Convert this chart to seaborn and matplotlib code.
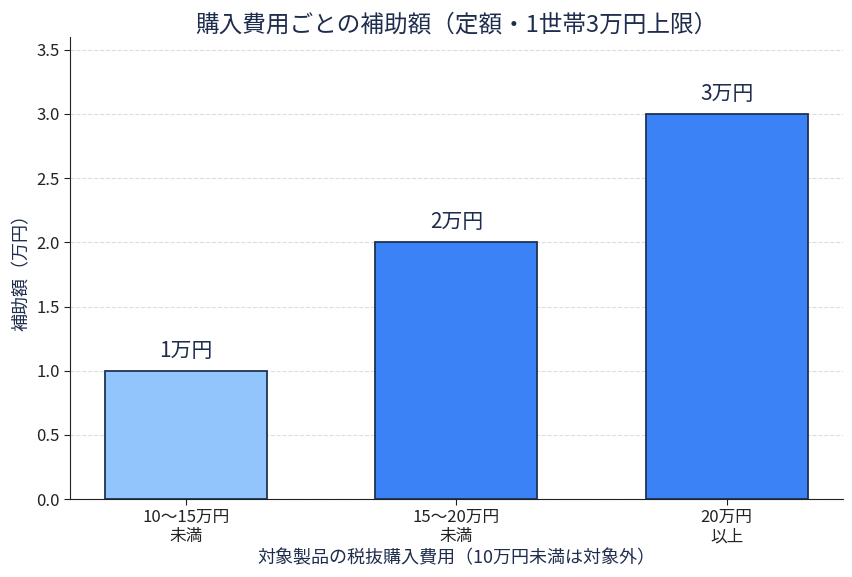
import matplotlib
matplotlib.use("Agg")
import matplotlib.pyplot as plt
import seaborn as sns
import pandas as pd

categories = ["10～15万円\n未満", "15～20万円\n未満", "20万円\n以上"]
values = [1, 2, 3]
value_labels = ["1万円", "2万円", "3万円"]
colors = ["#93C5FD", "#3B82F6", "#3B82F6"]

sns.set_style("white")
plt.rcParams['font.family'] = ['Noto Sans CJK JP', 'DejaVu Sans']

df = pd.DataFrame({"cat": categories, "val": values})

fig, ax = plt.subplots(figsize=(8.53, 5.77), dpi=100)
sns.barplot(data=df, x="cat", y="val", hue="cat", palette=colors, legend=False,
            width=0.6, edgecolor="#1E3354", linewidth=1.3, ax=ax, saturation=1)

navy = "#1F2D4D"
for i, (v, lab) in enumerate(zip(values, value_labels)):
    ax.text(i, v + 0.07, lab, ha="center", va="bottom", fontsize=15, color=navy)

ax.set_ylim(0, 3.6)
ax.set_xlim(-0.43, 2.43)
ax.set_yticks([0, 0.5, 1.0, 1.5, 2.0, 2.5, 3.0, 3.5])
ax.set_yticklabels(["0.0", "0.5", "1.0", "1.5", "2.0", "2.5", "3.0", "3.5"])
ax.yaxis.grid(True, linestyle="--", color="#DDDDDD", linewidth=0.8)
ax.set_axisbelow(True)
ax.tick_params(axis="y", labelsize=12, colors="#222222", length=4, left=True)
ax.tick_params(axis="x", labelsize=12, colors="#222222", length=4, bottom=True, pad=3)
sns.despine(ax=ax)
ax.spines["left"].set_color("#222222")
ax.spines["bottom"].set_color("#222222")

ax.set_title("購入費用ごとの補助額（定額・1世帯3万円上限）", fontsize=17, color=navy, pad=4)
ax.set_xlabel("対象製品の税抜購入費用（10万円未満は対象外）", fontsize=13, color=navy, labelpad=3)
ax.set_ylabel("補助額（万円）", fontsize=13, color=navy)

fig.subplots_adjust(left=0.082, right=0.988, top=0.936, bottom=0.135)
fig.savefig("out.png", dpi=100)
